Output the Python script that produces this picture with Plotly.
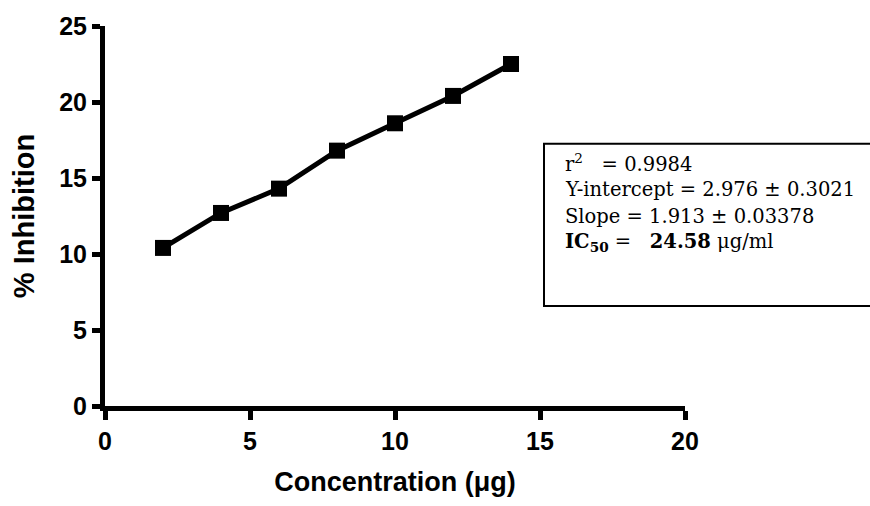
import plotly.graph_objects as go

# Data
concentration = [2, 4, 6, 8, 10, 12, 14]
inhibition = [10.4, 12.7, 14.3, 16.8, 18.6, 20.4, 22.5]
x_ticks = [0, 5, 10, 15, 20]
y_ticks = [0, 5, 10, 15, 20, 25]
x_title = "Concentration (\u03bcg)"
y_title = "% Inhibition"
stats_lines = [
    "r<sup>2</sup>   = 0.9984",
    "Y-intercept = 2.976 \u00b1 0.3021",
    "Slope = 1.913 \u00b1 0.03378",
    "<b>IC</b><sub><b>50</b></sub> =   <b>24.58</b> \u03bcg/ml",
]

W, H = 870, 506
L, R, T, B = 105, 185, 24, 98
pw, ph = W - L - R, H - T - B


def px(xp):
    return (xp - L) / pw


def py(yp):
    return (H - B - yp) / ph


fig = go.Figure()
fig.add_trace(go.Scatter(
    x=concentration, y=inhibition, mode="lines+markers",
    line=dict(color="black", width=5),
    marker=dict(symbol="square", size=16, color="black"),
    showlegend=False, cliponaxis=False,
))

sans = "Liberation Sans, Arial, sans-serif"
tick_font = dict(family=sans, size=25, color="black", weight="bold")
fig.update_xaxes(
    range=[0, 20], tickvals=x_ticks, ticks="outside", ticklen=9, tickwidth=5,
    tickcolor="black", showline=True, linewidth=5, linecolor="black",
    showgrid=False, zeroline=False, tickfont=tick_font,
    title=dict(text=x_title, font=dict(family=sans, size=27, color="black", weight="bold"), standoff=20),
)
fig.update_yaxes(
    range=[0, 25], tickvals=y_ticks, ticks="outside", ticklen=8, tickwidth=5,
    tickcolor="black", showline=True, linewidth=5, linecolor="black",
    showgrid=False, zeroline=False, tickfont=tick_font,
    title=dict(text=y_title, font=dict(family=sans, size=29, color="black", weight="bold"), standoff=18),
)

# stats box
fig.add_shape(type="rect", xref="paper", yref="paper",
              x0=px(544), x1=px(900), y0=py(307), y1=py(143),
              line=dict(color="black", width=2), fillcolor="rgba(0,0,0,0)")

line_y = [162, 189, 216, 243]
for txt, yy in zip(stats_lines, line_y):
    fig.add_annotation(text=txt, xref="paper", yref="paper", x=px(563), y=py(yy),
                       xanchor="left", yanchor="middle", showarrow=False,
                       font=dict(family="DejaVu Serif, serif", size=19.5, color="black"))

fig.update_layout(
    width=W, height=H, margin=dict(l=L, r=R, t=T, b=B),
    plot_bgcolor="white", paper_bgcolor="white",
)

fig.write_html("out.html")
